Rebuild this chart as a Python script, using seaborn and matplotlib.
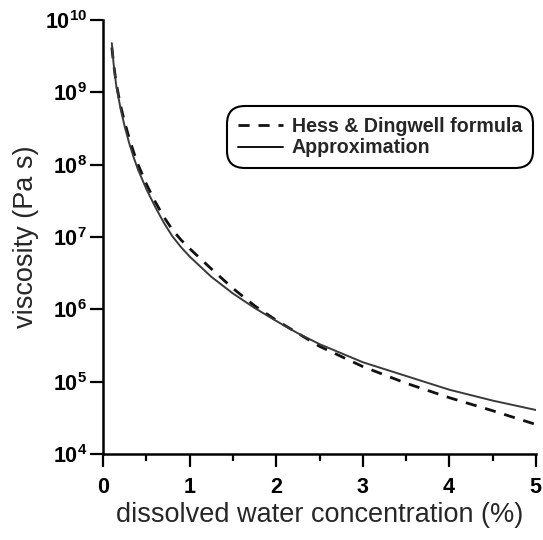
import numpy as np
import pandas as pd
import matplotlib
matplotlib.use("Agg")
import matplotlib.pyplot as plt
import seaborn as sns
from matplotlib.ticker import FixedLocator, MultipleLocator, FixedFormatter
from matplotlib.lines import Line2D

# Data (x in %, y as log10 of viscosity in Pa s)
x_hess = [0.10, 0.12, 0.15, 0.2, 0.25, 0.3, 0.35, 0.4, 0.5, 0.6, 0.7, 0.8, 0.9, 1.0, 1.25, 1.5,
          1.75, 2.0, 2.25, 2.5, 3.0, 3.5, 4.0, 4.5, 5.0]
logv_hess = [9.62, 9.40, 9.13, 8.82, 8.58, 8.37, 8.18, 8.01, 7.73, 7.49, 7.28, 7.10, 6.96, 6.84,
             6.56, 6.29, 6.05, 5.85, 5.67, 5.49, 5.21, 4.98, 4.78, 4.60, 4.41]
x_approx = [0.10, 0.12, 0.15, 0.2, 0.25, 0.3, 0.35, 0.4, 0.5, 0.6, 0.7, 0.8, 0.9, 1.0, 1.25, 1.5,
            1.75, 2.0, 2.25, 2.5, 3.0, 3.5, 4.0, 4.5, 5.0]
logv_approx = [9.68, 9.40, 9.10, 8.78, 8.52, 8.30, 8.11, 7.94, 7.66, 7.42, 7.20, 7.01, 6.86, 6.73,
               6.45, 6.22, 6.02, 5.84, 5.67, 5.52, 5.27, 5.08, 4.89, 4.74, 4.61]
series_names = ["Hess & Dingwell formula", "Approximation"]
x_ticks = [0, 1, 2, 3, 4, 5]
y_ticks = [1e4, 1e5, 1e6, 1e7, 1e8, 1e9, 1e10]
y_exps = [4, 5, 6, 7, 8, 9, 10]

df = pd.concat([
    pd.DataFrame({"x": x_hess, "y": 10 ** np.array(logv_hess), "series": series_names[0]}),
    pd.DataFrame({"x": x_approx, "y": 10 ** np.array(logv_approx), "series": series_names[1]}),
], ignore_index=True)

sns.set_theme(style="ticks")
plt.rcParams['font.family'] = ['Liberation Sans', 'DejaVu Sans']
plt.rcParams['mathtext.fontset'] = 'custom'
plt.rcParams['mathtext.rm'] = 'Liberation Sans:bold'
plt.rcParams['mathtext.bf'] = 'Liberation Sans:bold'
plt.rcParams['mathtext.it'] = 'Liberation Sans:bold'

fig = plt.figure(figsize=(5.43, 5.40), dpi=100)
ax = fig.add_axes([0.19, 0.159, 0.797, 0.804])

sns.lineplot(data=df, x="x", y="y", hue="series", style="series",
             palette={series_names[0]: "#111111", series_names[1]: "#3a3a3a"},
             dashes={series_names[0]: (4, 3.2), series_names[1]: ""},
             ax=ax, legend=False, sort=False)
lines = ax.get_lines()
lines[0].set_linewidth(2.0)
lines[1].set_linewidth(1.4)

ax.set_yscale("log")
ax.set_xlim(0, 5)
ax.set_ylim(1e4, 1e10)

ax.yaxis.set_major_locator(FixedLocator(y_ticks))
ax.yaxis.set_minor_locator(FixedLocator([]))
ax.yaxis.set_major_formatter(FixedFormatter([r"$\mathbf{10^{%d}}$" % e for e in y_exps]))
ax.xaxis.set_major_locator(FixedLocator(x_ticks))
ax.xaxis.set_minor_locator(MultipleLocator(0.5))
ax.xaxis.set_major_formatter(FixedFormatter([r"$\mathbf{%d}$" % t for t in x_ticks]))

ax.tick_params(axis="both", which="major", direction="out", length=9.5, width=1.6,
               colors="black", labelsize=15.5)
ax.tick_params(axis="y", which="major", pad=2)
ax.tick_params(axis="x", which="major", pad=7)
ax.tick_params(axis="x", which="minor", direction="out", length=5, width=1.6, colors="black")
sns.despine(ax=ax)
for s in ["left", "bottom"]:
    ax.spines[s].set_linewidth(1.8)
    ax.spines[s].set_color("black")

ax.set_xlabel("dissolved water concentration (%)", fontsize=19.5, labelpad=3)
ax.set_ylabel("viscosity (Pa s)", fontsize=19.5, labelpad=4)

# legend
handles = [Line2D([], [], color="#111111", lw=2.0, dashes=(4, 3.2)),
           Line2D([], [], color="#111111", lw=1.4)]
leg = ax.legend(handles, series_names, loc="upper right", bbox_to_anchor=(0.982, 0.79),
                prop={"weight": "bold", "size": 14.1}, frameon=True, fancybox=True,
                handlelength=2.3, handletextpad=0.45, labelspacing=0.12,
                borderpad=0.3, borderaxespad=0)
frame = leg.get_frame()
frame.set_edgecolor("black")
frame.set_linewidth(1.5)
frame.set_facecolor("white")
frame.set_alpha(1)
frame.set_boxstyle("round", pad=0.25, rounding_size=0.9)

fig.savefig("out.png", dpi=100)
